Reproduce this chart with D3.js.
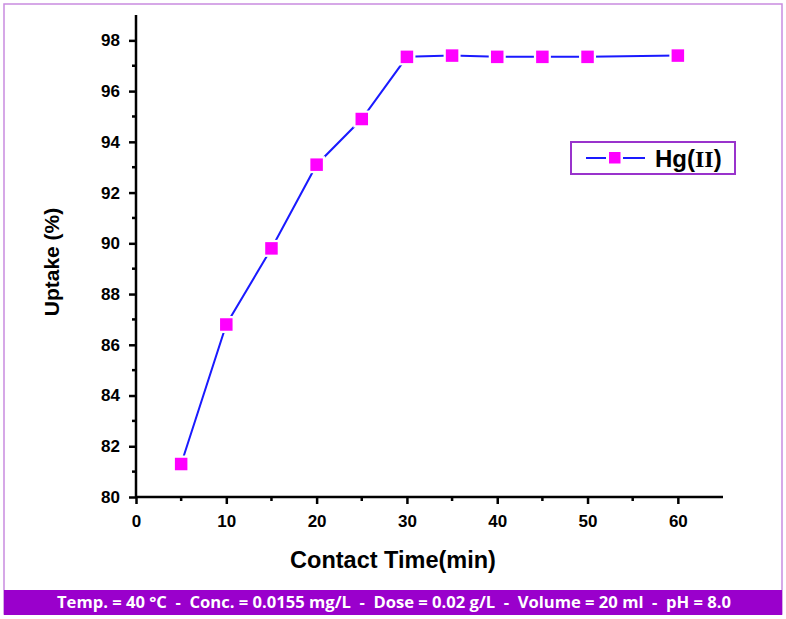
<!DOCTYPE html>
<html><head><meta charset="utf-8">
<script src="https://cdn.jsdelivr.net/npm/d3@7"></script>
<style>body{margin:0;background:#fff}svg{display:block}</style>
</head><body>
<svg id="c" width="786" height="619"></svg>
<script>
const times = [5, 10, 15, 20, 25, 30, 35, 40, 45, 50, 60];
const uptake = [81.3, 86.8, 89.8, 93.1, 94.9, 97.35, 97.4, 97.35, 97.35, 97.35, 97.4];
const xTicks = [0, 10, 20, 30, 40, 50, 60];
const yTicks = [80, 82, 84, 86, 88, 90, 92, 94, 96, 98];
const seriesName = ["Hg(", "II", ")"];
const xTitle = "Contact Time(min)";
const yTitle = "Uptake (%)";
const footer = "Temp. = 40 °C  -  Conc. = 0.0155 mg/L  -  Dose = 0.02 g/L  -  Volume = 20 ml  -  pH = 8.0";

const svg = d3.select("#c");
const x = d3.scaleLinear().domain([0, 65]).range([136, 723]);
const y = d3.scaleLinear().domain([80, 99]).range([497, 15]);
const font = "'Liberation Sans', Arial, sans-serif";

// outer border
svg.append("rect").attr("x", 4).attr("y", 4).attr("width", 778).attr("height", 610)
  .attr("fill", "none").attr("stroke", "#c98ce0").attr("stroke-width", 1.5);
// footer band
svg.append("rect").attr("x", 4).attr("y", 590).attr("width", 778).attr("height", 25).attr("fill", "#9a00cc");
svg.append("text").attr("x", 394).attr("y", 608).attr("text-anchor", "middle")
  .attr("fill", "#fff").attr("font-family", "'Open Sans', 'Noto Sans', sans-serif").attr("font-weight", "bold")
  .attr("font-size", 16.5).attr("textLength", 674).attr("lengthAdjust", "spacingAndGlyphs")
  .attr("xml:space", "preserve").style("white-space", "pre").text(footer);

// axes
const xAxis = d3.axisBottom(x).tickValues(xTicks).tickSize(7).tickPadding(11).tickFormat(d3.format("d"));
const gx = svg.append("g").attr("transform", "translate(0,497)").call(xAxis);
const yAxis = d3.axisLeft(y).tickValues(yTicks).tickSize(7).tickPadding(9).tickFormat(d3.format("d"));
const gy = svg.append("g").attr("transform", "translate(136,0)").call(yAxis);
[gx, gy].forEach(g => {
  g.select(".domain").attr("stroke", "#000").attr("stroke-width", 2.5);
  g.selectAll(".tick line").attr("stroke", "#000").attr("stroke-width", 2.5);
  g.selectAll(".tick text").attr("font-family", font).attr("font-weight", "bold").attr("font-size", 17).attr("fill", "#000");
});
gx.select(".domain").attr("d", `M${x(0)},0H${x(65)}`);
gy.select(".domain").attr("d", `M0,${y(80)}V${y(99)}`);
// minor ticks
const xMinor = d3.range(5, 65, 10);
gx.selectAll(".minor").data(xMinor).enter().append("line")
  .attr("x1", d => x(d)).attr("x2", d => x(d)).attr("y1", 0).attr("y2", 4)
  .attr("stroke", "#000").attr("stroke-width", 2.5);
const yMinor = d3.range(81, 99, 2);
gy.selectAll(".minor").data(yMinor).enter().append("line")
  .attr("y1", d => y(d)).attr("y2", d => y(d)).attr("x1", 0).attr("x2", -4)
  .attr("stroke", "#000").attr("stroke-width", 2.5);

// axis titles
svg.append("text").attr("x", 393).attr("y", 568).attr("text-anchor", "middle")
  .attr("font-family", font).attr("font-weight", "bold").attr("font-size", 23.5).text(xTitle);
svg.append("text").attr("transform", "translate(59,262) rotate(-90)").attr("text-anchor", "middle")
  .attr("font-family", font).attr("font-weight", "bold").attr("font-size", 21).text(yTitle);

// line + markers
const data = times.map((t, i) => ({t, v: uptake[i]}));
svg.append("path").datum(data)
  .attr("d", d3.line().x(d => x(d.t)).y(d => y(d.v)))
  .attr("fill", "none").attr("stroke", "#1a1aff").attr("stroke-width", 2);
const ms = 12.5, halo = 17;
svg.selectAll(".halo").data(data).enter().append("rect")
  .attr("x", d => x(d.t) - halo / 2).attr("y", d => y(d.v) - halo / 2)
  .attr("width", halo).attr("height", halo).attr("fill", "#fff");
svg.selectAll(".pt").data(data).enter().append("rect")
  .attr("x", d => x(d.t) - ms / 2).attr("y", d => y(d.v) - ms / 2)
  .attr("width", ms).attr("height", ms).attr("fill", "#ff00ff");

// legend
const lg = svg.append("g");
lg.append("rect").attr("x", 571).attr("y", 142).attr("width", 164).attr("height", 32)
  .attr("fill", "#fff").attr("stroke", "#9933cc").attr("stroke-width", 2);
lg.append("line").attr("x1", 586).attr("x2", 645).attr("y1", 158).attr("y2", 158)
  .attr("stroke", "#1a1aff").attr("stroke-width", 2);
lg.append("rect").attr("x", 606).attr("y", 150.5).attr("width", 17).attr("height", 15).attr("fill", "#fff");
lg.append("rect").attr("x", 609).attr("y", 152).attr("width", 11.5).attr("height", 11.5).attr("fill", "#ff00ff");
const lt = lg.append("text").attr("x", 655).attr("y", 167).attr("font-weight", "bold").attr("font-size", 24);
lt.append("tspan").attr("font-family", font).text(seriesName[0]);
lt.append("tspan").attr("font-family", "'Liberation Serif', 'Times New Roman', serif").text(seriesName[1]);
lt.append("tspan").attr("font-family", font).text(seriesName[2]);
</script>
</body></html>
